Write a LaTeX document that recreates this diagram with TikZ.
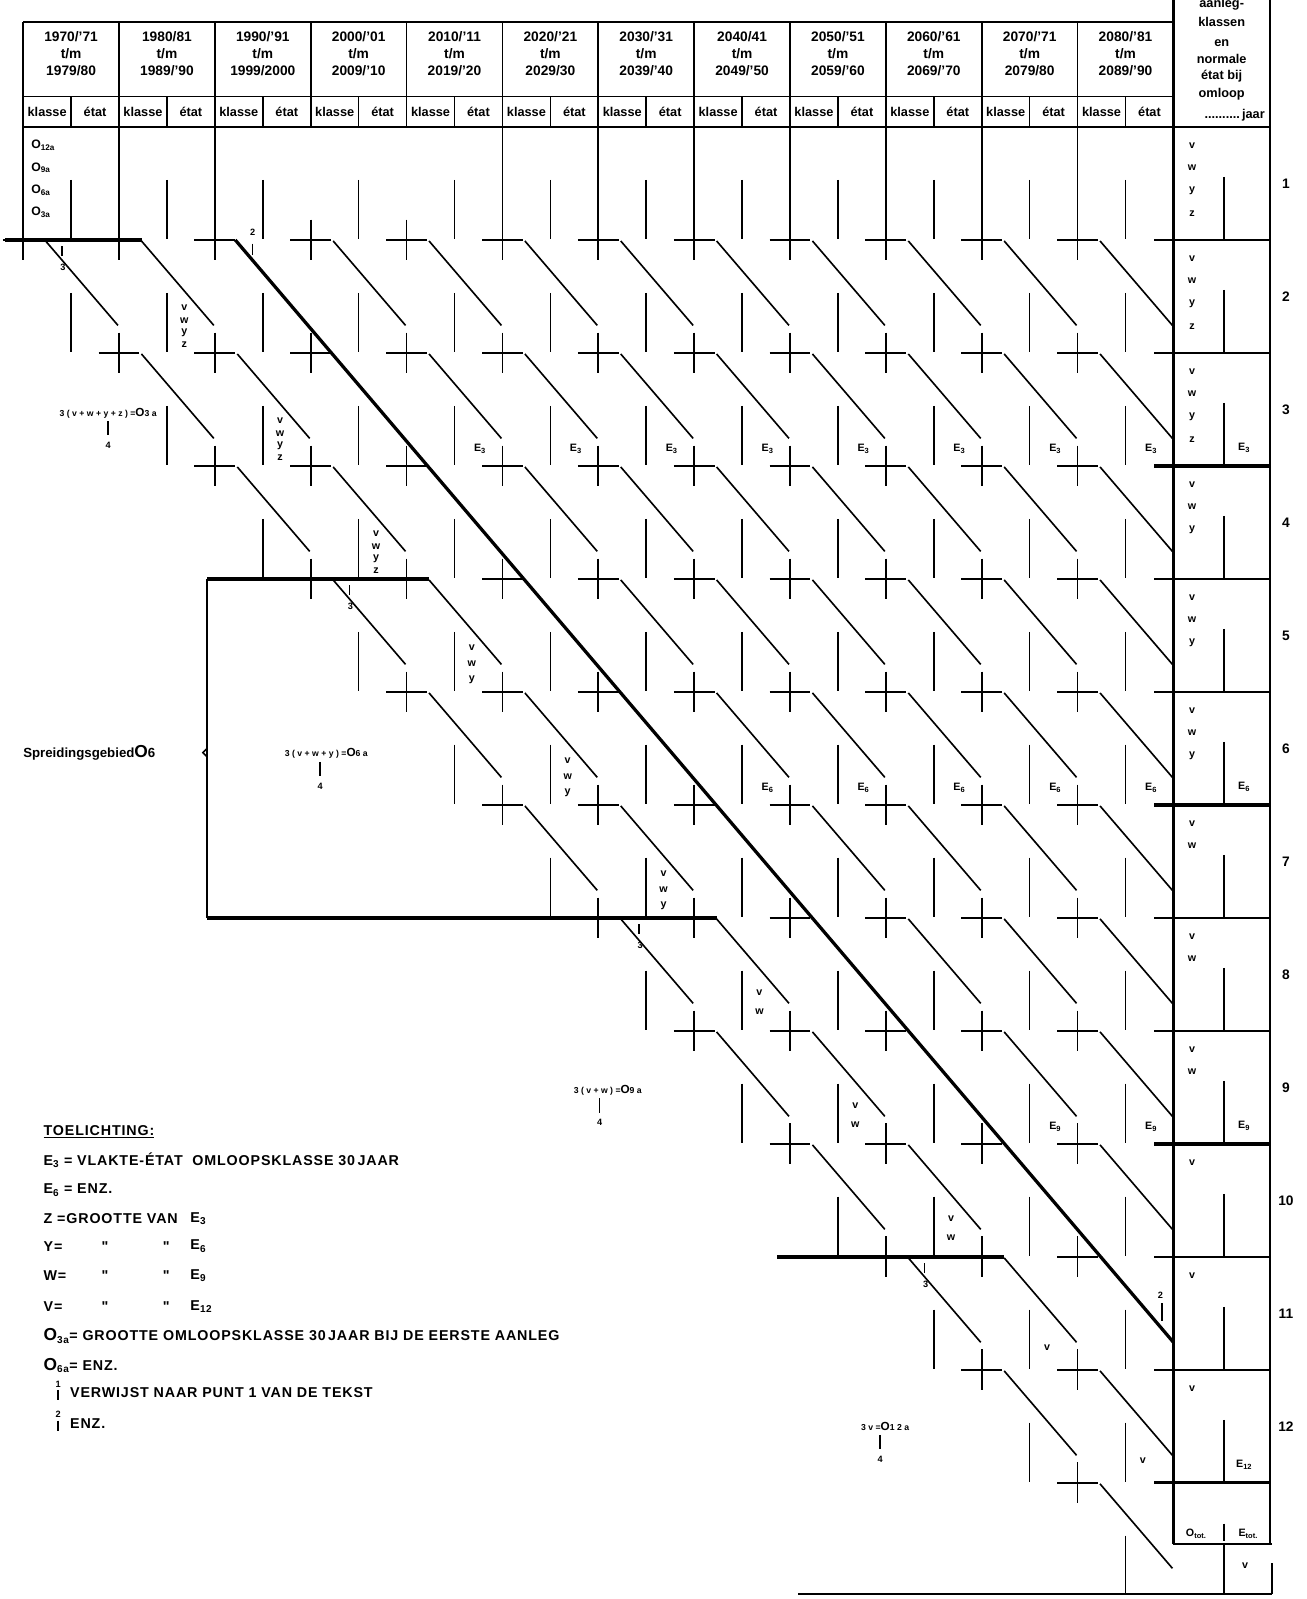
\documentclass[tikz,border=0pt]{standalone}
\usepackage{fontspec}
\setmainfont{Liberation Sans}
\newfontfamily\wide[LetterSpace=28]{Liberation Sans}
\newfontfamily\lgdf[LetterSpace=6]{Liberation Sans}
\newcommand\Obig{{\fontsize{11.5}{11.5}\selectfont O}}
\begin{document}
\begin{tikzpicture}[x=1pt,y=-1pt,line width=1.6pt,inner sep=0pt,
  hdr/.style={font=\fontsize{13.5}{13.5}\selectfont\bfseries},
  sub/.style={font=\fontsize{12.5}{12.5}\selectfont\bfseries},
  lbl/.style={font=\fontsize{10.5}{10.5}\selectfont\bfseries},
  olab/.style={font=\fontsize{12}{12}\selectfont\bfseries},
  ref/.style={font=\fontsize{9}{9}\selectfont\bfseries},
  frm/.style={font=\wide\fontsize{8.5}{8.5}\selectfont\bfseries},
  lgd/.style={anchor=west,font=\lgdf\fontsize{14}{14}\selectfont\bfseries},
  heavy/.style={line width=3.2pt},
  frame/.style={line width=2.1pt}]
\useasboundingbox (0,0) rectangle (1281,1568);

\draw[frame] (22.7,21.3) -- (1150.7,21.3);
\draw (22.7,94.8) -- (1150.7,94.8);
\draw[frame] (22.7,124.5) -- (1245,124.5);
\foreach \i in {0,...,12}
  \draw (22.7+94*\i,21.3) -- (22.7+94*\i,124.5);
\foreach \i in {0,...,11}
  \draw (69.7+94*\i,94.8) -- (69.7+94*\i,124.5);
\foreach \i/\ya/\yb in {0/{1970/'71}/{1979/80},1/{1980/81}/{1989/'90},2/{1990/'91}/{1999/2000},
  3/{2000/'01}/{2009/'10},4/{2010/'11}/{2019/'20},5/{2020/'21}/{2029/30},6/{2030/'31}/{2039/'40},
  7/{2040/41}/{2049/'50},8/{2050/'51}/{2059/'60},9/{2060/'61}/{2069/'70},10/{2070/'71}/{2079/80},
  11/{2080/'81}/{2089/'90}}{
  \node[hdr] (ya\i) at (69.7+94*\i,36) {\ya};
  \node[hdr] (tm\i) at (69.7+94*\i,52.5) {t/m};
  \node[hdr] (yb\i) at (69.7+94*\i,69) {\yb};
  \node[sub] (kl\i) at (46.2+94*\i,109.5) {klasse};
  \node[sub] (et\i) at (93.2+94*\i,109.5) {état};
}

\draw[frame] (1150.7,0) -- (1150.7,1514);
\draw[frame] (1245,0) -- (1245,1514);
\draw[frame] (1247,1533) -- (1247,1563);
\foreach \t/\y [count=\n] in {aanleg-/4,klassen/22,en/42,normale/58,{état bij}/75,omloop/92}
  \node[sub] (kop\n) at (1198,\y) {\t};
\node[sub,anchor=east] (jaar) at (1241,113) {..........\,jaar};
\foreach \k in {1,...,12}{
  \pgfmathsetmacro\lw{mod(\k,3)==0 ? 3.2 : 1.6}
  \draw[line width=\lw pt] (1132,124.5+110.8*\k) -- (1245,124.5+110.8*\k);
  \draw (1200,62.7+110.8*\k) -- (1200,124.5+110.8*\k);
  \node[hdr] (nr\k) at (1261,69.1+110.8*\k) {\k};
}
\foreach \k/\ls in {1/{v,w,y,z},2/{v,w,y,z},3/{v,w,y,z},4/{v,w,y},5/{v,w,y},6/{v,w,y},
  7/{v,w},8/{v,w},9/{v,w},10/{v},11/{v},12/{v}}
  \foreach \t [count=\j from 0] in \ls
    \node[lbl] (rc\k\t) at (1169,31.7+110.8*\k+22.3*\j) {\t};
\foreach \k in {3,6,9,12}
  \node[lbl] (re\k) at (1220,106.5+110.8*\k) {E\textsubscript{\k}};
\draw[frame] (1150.7,1514) -- (1247,1514);
\draw (1200,1494) -- (1200,1511) (1200,1514) -- (1200,1563);
\node[lbl] (otot) at (1173,1504) {O\textsubscript{tot.}};
\node[lbl] (etot) at (1224,1504) {E\textsubscript{tot.}};
\node[lbl] (rcv) at (1221,1535) {v};
\draw[frame] (783,1563) -- (1247,1563);

\foreach \t [count=\j from 0] in {12a,9a,6a,3a}
  \node[olab,anchor=west] (ok\t) at (30,142.5+22*\j) {O\textsubscript{\t}};

\foreach \i in {0,1,2,5,6,7,8,9,10,11}
  \draw (22.7+94*\i,124.5) -- (22.7+94*\i,235.3);
\foreach \k in {1,...,12}{
  \pgfmathtruncatemacro\ia{\k-1}
  \foreach \i in {\ia,...,11}{
    \draw (2.7+94*\i,124.5+110.8*\k) -- ++(40,0);
    \draw (22.7+94*\i,104.5+110.8*\k) -- ++(0,40);
    \pgfmathtruncatemacro\onthick{\i==\k+1}
    \ifnum\onthick=0
      \draw (44.7+94*\i,125.5+110.8*\k) -- (115.7+94*\i,208.3+110.8*\k);
    \fi
  }
}
\foreach \k in {1,...,13}{
  \pgfmathtruncatemacro\ib{max(\k-2,0)}
  \foreach \i in {\ib,...,11}
    \draw (69.7+94*\i,65.5+110.8*\k) -- (69.7+94*\i,123.5+110.8*\k);
}
\draw[heavy] (230.7,235.3) -- (1150.7,1316.3);
\draw[heavy] (5,235.3) -- (139.7,235.3);
\draw[heavy] (203,567.7) -- (420.7,567.7);
\draw[heavy] (203,900.1) -- (702.7,900.1);
\draw[heavy] (762,1232.5) -- (984.7,1232.5);
\draw[line width=1.9pt] (203,567.7) -- (203,900.1);
\draw (203,734) -- (199,738) -- (203,742);

\foreach \k/\ls/\off/\sp in {2/{v,w,y,z}/44/12,3/{v,w,y,z}/44/12,4/{v,w,y,z}/44/12,
  5/{v,w,y}/43/15.5,6/{v,w,y}/43/15.5,7/{v,w,y}/43/15.5,
  8/{v,w}/37/18,9/{v,w}/37/18,10/{v,w}/37/18,11/{v}/22/0,12/{v}/22/0}
  \foreach \t [count=\j from 0] in \ls
    \node[lbl] (g\k\t) at (-7.3+94*\k,124.5+110.8*\k-\off+\sp*\j) {\t};
\foreach \k/\ia in {3/4,6/7,9/10}
  \foreach \i in {\ia,...,11}
    \node[lbl] (e\k-\i) at (94.7+94*\i,107.5+110.8*\k) {E\textsubscript{\k}};

\foreach \x/\k [count=\n] in {60.7/1,342.7/4,626.7/7,906.7/10}{
  \draw (\x,130.5+110.8*\k) -- (\x,140.5+110.8*\k);
  \node[ref] (pa\n) at (\x+1,151.5+110.8*\k) {3};
}
\node[ref] (pb1) at (247.7,228) {2};
\draw (247.7,239) -- (247.7,250);
\node[ref] (pb2) at (1138,1270) {2};
\draw (1139.5,1278) -- (1139.5,1295);

\foreach \n/\x/\y/\tx/\t in {a/106/405/106/{3(v+w+y+z)=\Obig 3a},b/320/739/314/{3(v+w+y)=\Obig 6a},
  c/596/1069/588/{3(v+w)=\Obig 9a},d/868/1399/863/{3v=\Obig 12a}}{
  \node[frm] (f\n) at (\x,\y) {\t};
  \draw (\tx,\y+8) -- (\tx,\y+22);
  \node[ref] (fq\n) at (\tx,\y+32) {4};
}
\node[anchor=west,font=\fontsize{13}{13}\selectfont\bfseries] (spr) at (22,738)
  {Spreidingsgebied{\fontsize{17}{17}\selectfont O}6};

\node[lgd] (tl) at (42,1110) {\underline{TOELICHTING:}};
\node[lgd] (l1) at (42,1138) {E\textsubscript{3} = VLAKTE-ÉTAT\ \ OMLOOPSKLASSE 30\,JAAR};
\node[lgd] (l2) at (42,1167) {E\textsubscript{6} = ENZ.};
\node[lgd] (l3) at (42,1195) {Z =GROOTTE\ VAN};
\node[lgd] (l3e) at (186,1195) {E\textsubscript{3}};
\foreach \a/\e/\y [count=\n] in {Y/6/1222,W/9/1251,V/12/1281}{
  \node[lgd] (d\n) at (42,\y) {\a =};
  \node[lgd,anchor=center] (d\n-a) at (103,\y) {"};
  \node[lgd,anchor=center] (d\n-b) at (163,\y) {"};
  \node[lgd] (d\n-c) at (186,\y) {E\textsubscript{\e}};
}
\node[lgd] (l7) at (42,1310) {{\fontsize{17}{17}\selectfont O}\textsubscript{3a}= GROOTTE OMLOOPSKLASSE 30\,JAAR BIJ DE EERSTE AANLEG};
\node[lgd] (l8) at (42,1339) {{\fontsize{17}{17}\selectfont O}\textsubscript{6a}= ENZ.};
\node[ref] (m1) at (57,1357) {1};
\draw (57,1363) -- (57,1373);
\node[lgd] (l9) at (68,1366) {VERWIJST NAAR PUNT 1 VAN DE TEKST};
\node[ref] (m2) at (57,1387) {2};
\draw (57,1393) -- (57,1403);
\node[lgd] (l10) at (68,1396) {ENZ.};
\end{tikzpicture}
\end{document}
